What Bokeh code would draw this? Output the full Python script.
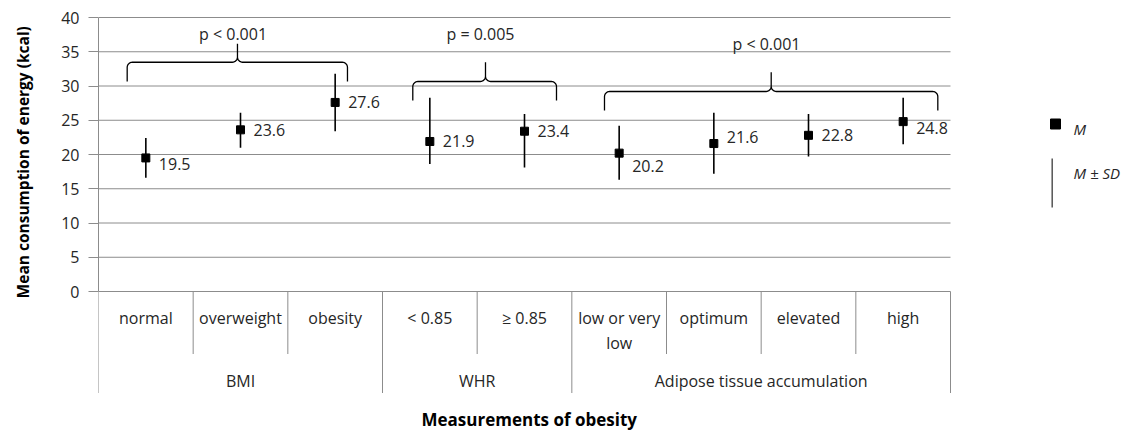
import numpy as np
from bokeh.plotting import figure
from bokeh.layouts import row
from bokeh.models import Range1d, FixedTicker, ColumnDataSource, Label
from bokeh.core.properties import value
from bokeh.embed import file_html
from bokeh.resources import INLINE

# ---------------- data ----------------
categories = ["normal", "overweight", "obesity", "< 0.85", "\u2265 0.85",
              "low or very\nlow", "optimum", "elevated", "high"]
groups = ["BMI", "BMI", "BMI", "WHR", "WHR",
          "Adipose tissue accumulation", "Adipose tissue accumulation",
          "Adipose tissue accumulation", "Adipose tissue accumulation"]
means = [19.5, 23.6, 27.6, 21.9, 23.4, 20.2, 21.6, 22.8, 24.8]
upper = [22.4, 26.1, 31.8, 28.3, 25.9, 24.2, 26.1, 25.9, 28.3]   # M + SD
lower = [16.6, 21.0, 23.4, 18.6, 18.1, 16.3, 17.2, 19.7, 21.5]   # M - SD
y_ticks = [0, 5, 10, 15, 20, 25, 30, 35, 40]
group_names = ["BMI", "WHR", "Adipose tissue accumulation"]
p_values = ["p < 0.001", "p = 0.005", "p < 0.001"]
y_title = "Mean consumption of energy (kcal)"
x_title = "Measurements of obesity"

# ---------------- style / layout ----------------
FONT = "Open Sans"
GRID = "#8c8c8c"
TXT = "#262626"
FS = "16px"
label_dy = [6, 0, 0, 0, 0, 13, -7, 0, 6]          # px shift of value labels
# brace geometry per group: (left, right, cusp x, horizontal y, tip y, cusp y)
braces = [(-0.197, 2.130, 0.968, 33.47, 30.66, 36.16),
          (2.820, 4.338, 3.588, 30.66, 27.88, 33.47),
          (4.845, 8.366, 6.606, 29.20, 26.42, 32.01)]
p_pos = [(0.921, 37.6), (3.535, 37.6), (6.556, 36.16)]

n = len(categories)
x = list(range(n))

W, H = 1137, 435
TITLE_W = 40                 # strip holding the vertical axis title
LEFT, TOP = 98, 15           # page position of the plotting frame
px_per_cat = 852 / 9
px_per_unit = 6.85
zero_row = 291
x_end = -0.5 + (W - LEFT) / px_per_cat
y_top = (zero_row - TOP) / px_per_unit
y_bot = (zero_row - H) / px_per_unit

# ---- narrow strip with the y-axis title ----
t = figure(width=TITLE_W, height=H, x_range=Range1d(0, TITLE_W), y_range=Range1d(0, H),
           min_border=0, x_axis_location=None, y_axis_location=None,
           output_backend="svg", toolbar_location=None, outline_line_color=None,
           background_fill_color="white", border_fill_color="white")
t.grid.visible = False
value_mid_row = zero_row - (y_ticks[0] + y_ticks[-1]) / 2 * px_per_unit
t.text(x=[22], y=[H - value_mid_row + 2], text=[y_title], angle=np.pi / 2,
       text_align="center", text_baseline="middle", text_font=value(FONT),
       text_font_size="15.5px", text_font_style="bold", text_color="black")

# ---- main chart ----
p = figure(width=W - TITLE_W, height=H,
           x_range=Range1d(-0.5, x_end), y_range=Range1d(y_bot, y_top),
           min_border_left=LEFT - TITLE_W, min_border_right=0, min_border_top=TOP,
           min_border_bottom=0,
           x_axis_location=None, output_backend="svg", toolbar_location=None,
           outline_line_color=None, background_fill_color="white",
           border_fill_color="white")
p.grid.visible = False

ax = p.yaxis[0]
ax.ticker = FixedTicker(ticks=y_ticks)
ax.bounds = (0, 40)
ax.axis_line_color = GRID
ax.major_tick_line_color = GRID
ax.major_tick_out = 10
ax.major_tick_in = 0
ax.minor_tick_line_color = None
ax.major_label_standoff = 9
ax.major_label_text_font = FONT
ax.major_label_text_font_size = FS
ax.major_label_text_color = TXT

# horizontal grid lines (limited to the category area)
p.segment(x0=[-0.5] * len(y_ticks), x1=[n - 0.5] * len(y_ticks),
          y0=y_ticks, y1=y_ticks, line_color=GRID, line_width=1)

def py(page_y):  # convert a page pixel row into the y data scale
    return (zero_row - page_y) / px_per_unit

def pxx(page_x):  # convert a page pixel column into the x data scale
    return (page_x - LEFT) / px_per_cat - 0.5

# category table below the axis
inner_b, outer_b = [], []
for i in range(1, n):
    b = i - 0.5
    (inner_b if groups[i] == groups[i - 1] else outer_b).append(b)
outer_b = [-0.5] + outer_b + [n - 0.5]
p.segment(x0=inner_b, x1=inner_b, y0=[0] * len(inner_b), y1=[py(353.5)] * len(inner_b),
          line_color=GRID, line_width=1)
p.segment(x0=outer_b, x1=outer_b, y0=[0] * len(outer_b), y1=[py(392.5)] * len(outer_b),
          line_color=GRID, line_width=1)

lx, ly, lt, lo = [], [], [], []
for i, c in enumerate(categories):
    for k, part in enumerate(c.split("\n")):
        lx.append(i); ly.append(py(317.5)); lt.append(part); lo.append(25 * k)
p.text(x=lx, y=ly, text=lt, y_offset=lo, text_align="center", text_baseline="middle",
       text_font=value(FONT), text_font_size=FS, text_color=TXT)

gx = []
for g in group_names:
    idx = [i for i, gg in enumerate(groups) if gg == g]
    gx.append((min(idx) + max(idx)) / 2)
p.text(x=gx, y=[py(380)] * len(gx), text=group_names, text_align="center",
       text_baseline="middle", text_font=value(FONT), text_font_size=FS, text_color=TXT)

# x axis title
p.add_layout(Label(x=(n - 1) / 2 + 0.05, y=py(419), text=x_title,
                   text_align="center", text_baseline="middle", text_font=FONT,
                   text_font_size="17px", text_font_style="bold", text_color="black"))

# error bars and means
src = ColumnDataSource(dict(x=x, m=means, up=upper, lo=lower,
                            lab=[f"{v:.1f}" for v in means], dy=label_dy))
p.segment(x0="x", x1="x", y0="lo", y1="up", source=src, line_color="black", line_width=1.6)
p.scatter(x="x", y="m", source=src, marker="square", size=8, color="black")
p.text(x="x", y="m", text="lab", x_offset=13, y_offset="dy", source=src,
       text_align="left", text_baseline="middle", text_font=value(FONT),
       text_font_size=FS, text_color=TXT)

# braces with p-values
def brace_path(x0, x1, xc, yh, ytip, ycusp, rx=0.055, ry=0.75):
    tt = np.linspace(0, np.pi / 2, 8)
    xs, ys = [x0], [ytip]
    cx, cy = x0 + rx, yh - ry
    xs += list(cx - rx * np.cos(tt)); ys += list(cy + ry * np.sin(tt))
    cx, cy = xc - rx, yh + ry
    xs += list(cx + rx * np.sin(tt)); ys += list(cy - ry * np.cos(tt))
    xs.append(xc); ys.append(ycusp)
    xs.append(xc); ys.append(yh + ry)
    cx, cy = xc + rx, yh + ry
    xs += list(cx - rx * np.cos(tt)); ys += list(cy - ry * np.sin(tt))
    cx, cy = x1 - rx, yh - ry
    xs += list(cx + rx * np.sin(tt)); ys += list(cy + ry * np.cos(tt))
    xs.append(x1); ys.append(ytip)
    return xs, ys

bx, by = [], []
for b in braces:
    xs, ys = brace_path(*b)
    bx.append(xs); by.append(ys)
p.multi_line(xs=bx, ys=by, line_color="black", line_width=1.3)
p.text(x=[q[0] for q in p_pos], y=[q[1] for q in p_pos], text=p_values,
       text_align="center", text_baseline="middle", text_font=value(FONT),
       text_font_size=FS, text_color=TXT)

# legend (drawn at the right of the categories)
p.scatter(x=[pxx(1055)], y=[py(123.5)], marker="square", size=10, color="black")
p.segment(x0=[pxx(1051.7)], x1=[pxx(1051.7)], y0=[py(158)], y1=[py(207)],
          line_color="#555555", line_width=1.5)
p.text(x=[pxx(1073)] * 2, y=[py(128), py(172)], text=["M", "M \u00b1 SD"],
       text_align="left", text_baseline="middle", text_font=value(FONT),
       text_font_size="15px", text_font_style="italic", text_color=TXT)

layout = row(t, p, spacing=0)
open("out.html", "w").write(file_html(layout, INLINE))
